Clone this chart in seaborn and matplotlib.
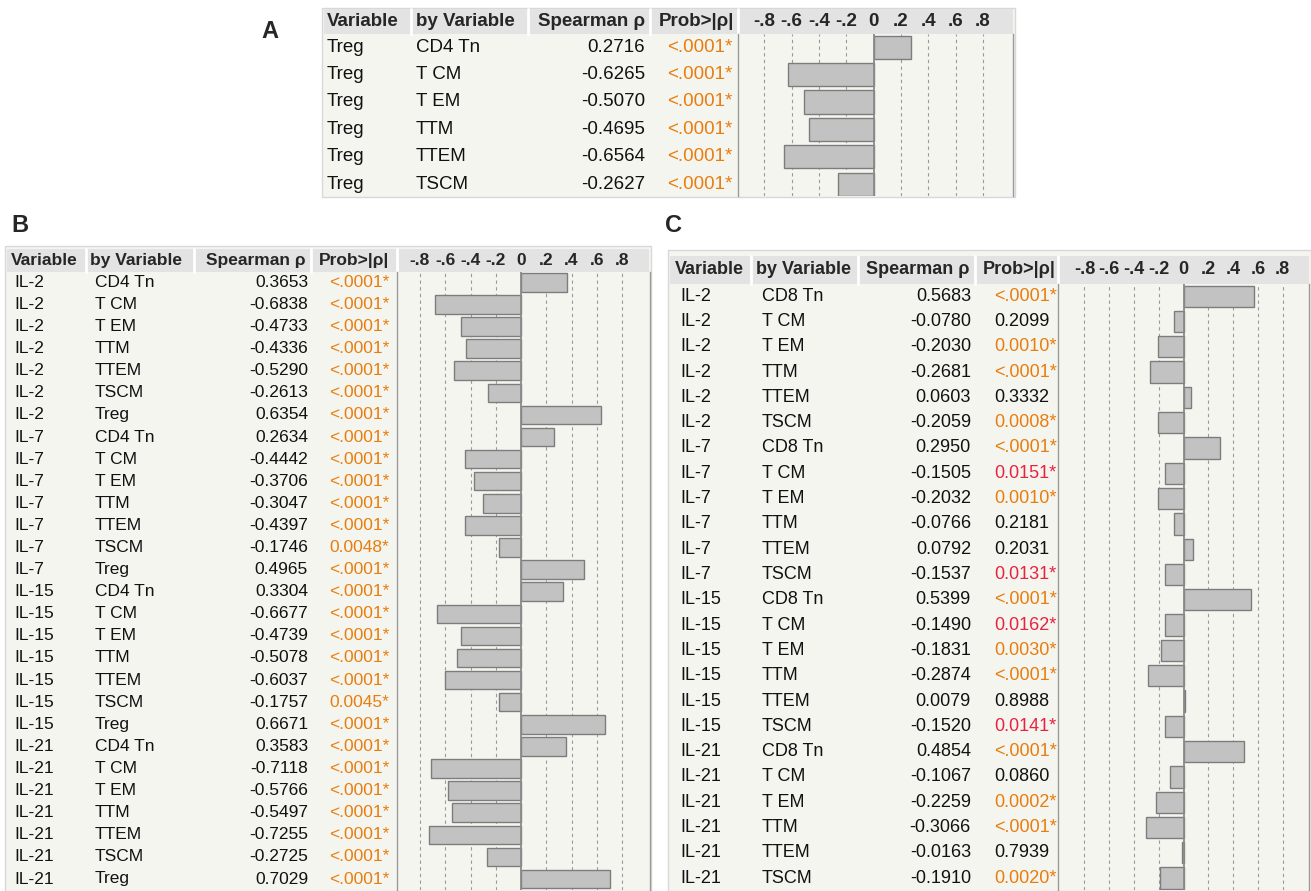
import matplotlib
matplotlib.use('Agg')
import matplotlib.pyplot as plt
from matplotlib.patches import Rectangle
import pandas as pd
import seaborn as sns

# ---- data ----
a_var = ['Treg'] * 6
a_by = ['CD4 Tn', 'T CM', 'T EM', 'TTM', 'TTEM', 'TSCM']
a_rho = [0.2716, -0.6265, -0.5070, -0.4695, -0.6564, -0.2627]
a_prob = ['<.0001*'] * 6

b_var = ['IL-2'] * 7 + ['IL-7'] * 7 + ['IL-15'] * 7 + ['IL-21'] * 7
b_by = ['CD4 Tn', 'T CM', 'T EM', 'TTM', 'TTEM', 'TSCM', 'Treg'] * 4
b_rho = [0.3653, -0.6838, -0.4733, -0.4336, -0.5290, -0.2613, 0.6354,
         0.2634, -0.4442, -0.3706, -0.3047, -0.4397, -0.1746, 0.4965,
         0.3304, -0.6677, -0.4739, -0.5078, -0.6037, -0.1757, 0.6671,
         0.3583, -0.7118, -0.5766, -0.5497, -0.7255, -0.2725, 0.7029]
b_prob = ['<.0001*'] * 12 + ['0.0048*', '<.0001*'] + ['<.0001*'] * 5 + ['0.0045*'] + ['<.0001*'] * 8

c_var = ['IL-2'] * 6 + ['IL-7'] * 6 + ['IL-15'] * 6 + ['IL-21'] * 6
c_by = ['CD8 Tn', 'T CM', 'T EM', 'TTM', 'TTEM', 'TSCM'] * 4
c_rho = [0.5683, -0.0780, -0.2030, -0.2681, 0.0603, -0.2059,
         0.2950, -0.1505, -0.2032, -0.0766, 0.0792, -0.1537,
         0.5399, -0.1490, -0.1831, -0.2874, 0.0079, -0.1520,
         0.4854, -0.1067, -0.2259, -0.3066, -0.0163, -0.1910]
c_prob = ['<.0001*', '0.2099', '0.0010*', '<.0001*', '0.3332', '0.0008*',
          '<.0001*', '0.0151*', '0.0010*', '0.2181', '0.2031', '0.0131*',
          '<.0001*', '0.0162*', '0.0030*', '<.0001*', '0.8988', '0.0141*',
          '<.0001*', '0.0860', '0.0002*', '<.0001*', '0.7939', '0.0020*']

tick_vals = [-0.8, -0.6, -0.4, -0.2, 0, 0.2, 0.4, 0.6, 0.8]
tick_labels = ['-.8', '-.6', '-.4', '-.2', '0', '.2', '.4', '.6', '.8']

# ---- layout (pixels) ----
W, H = 1311, 891
panels = [
    dict(name='A', lab=(261, 31), var=a_var, by=a_by, rho=a_rho, prob=a_prob,
         box=(322, 8, 1015, 197), head=(9, 34), row0=47.2, step=27.4, fs=13.5,
         hx=(327, 416, 645, 734), dx=(327, 416, 645, 733), prob_ha='right',
         seps=(411, 528, 650), bar=(738, 1013), zero=873.6, unit=136.6),
    dict(name='B', lab=(11, 226), var=b_var, by=b_by, rho=b_rho, prob=b_prob,
         box=(5, 246, 651, 891), head=(249, 272), row0=282.3, step=22.1, fs=12.5,
         hx=(10.5, 90.5, 306, 389), dx=(14.7, 94.7, 308, 389), prob_ha='right',
         seps=(86, 194, 311), bar=(396.5, 650), zero=521, unit=126.25),
    dict(name='C', lab=(665, 226), var=c_var, by=c_by, rho=c_rho, prob=c_prob,
         box=(668, 250, 1311, 891), head=(256, 284), row0=296.2, step=25.3, fs=13,
         hx=(674.5, 756, 970, 1056), dx=(680, 761.6, 971, 994), prob_ha='left',
         seps=(751, 858, 975), bar=(1058, 1309), zero=1183.6, unit=124),
]

sns.set_theme(style='white')
plt.rcParams['font.family'] = ['Liberation Sans', 'DejaVu Sans']

BODY = '#f5f5f0'
HEAD = '#e3e3e3'
ORANGE = '#e87d0e'
RED = '#e8233f'


def prob_color(p):
    if not p.endswith('*'):
        return '#111111'
    v = 0.0 if p.startswith('<') else float(p[:-1])
    return ORANGE if v < 0.01 else RED


fig = plt.figure(figsize=(W / 100, H / 100), dpi=100)
bg = fig.add_axes([0, 0, 1, 1])
bg.set_xlim(0, W)
bg.set_ylim(H, 0)
bg.axis('off')

for p in panels:
    x0, y0, x1, y1 = p['box']
    ht, hb = p['head']
    fs = p['fs']
    bg.add_patch(Rectangle((x0, y0), x1 - x0, y1 - y0, facecolor=BODY, edgecolor='#d8d8d8', lw=1))
    bg.add_patch(Rectangle((x0 + 2, ht), x1 - x0 - 4, hb - ht, facecolor=HEAD, edgecolor='none'))
    for s in list(p['seps']) + [p['bar'][0]]:
        bg.plot([s, s], [ht, hb], color='white', lw=2)
    hy = (ht + hb) / 2
    hx = p['hx']
    bg.text(p['lab'][0], p['lab'][1], p['name'], fontsize=17, fontweight='bold', ha='left', va='center')
    bg.text(hx[0], hy, 'Variable', fontsize=fs, fontweight='bold', va='center', ha='left')
    bg.text(hx[1], hy, 'by Variable', fontsize=fs, fontweight='bold', va='center', ha='left')
    bg.text(hx[2], hy, 'Spearman ρ', fontsize=fs, fontweight='bold', va='center', ha='right')
    bg.text(hx[3], hy, 'Prob>|ρ|', fontsize=fs, fontweight='bold', va='center', ha='right')
    for t, lab in zip(tick_vals, tick_labels):
        bg.text(p['zero'] + t * p['unit'], hy, lab, fontsize=fs, fontweight='bold', va='center', ha='center')

    dx = p['dx']
    for i, (v, b, r, pr) in enumerate(zip(p['var'], p['by'], p['rho'], p['prob'])):
        y = p['row0'] + i * p['step']
        bg.text(dx[0], y, v, fontsize=fs, va='center', ha='left', color='#111111')
        bg.text(dx[1], y, b, fontsize=fs, va='center', ha='left', color='#111111')
        bg.text(dx[2], y, f'{r:.4f}', fontsize=fs, va='center', ha='right', color='#111111')
        bg.text(dx[3], y, pr, fontsize=fs, va='center', ha=p['prob_ha'], color=prob_color(pr))

    # bar column
    bl, br = p['bar']
    ax = fig.add_axes([bl / W, 1 - (y1 - 1) / H, (br - bl) / W, (y1 - 1 - hb) / H])
    df = pd.DataFrame({'row': [f'{v}|{b}' for v, b in zip(p['var'], p['by'])], 'rho': p['rho']})
    sns.barplot(data=df, x='rho', y='row', orient='h', color='#c2c2c2', saturation=1,
                edgecolor='#7d7d7d', linewidth=1, width=0.84, ax=ax, zorder=3)
    ax.set_facecolor(BODY)
    ax.set_xlim((bl - p['zero']) / p['unit'], (br - p['zero']) / p['unit'])
    ax.set_ylim((y1 - 1 - p['row0']) / p['step'], (hb - p['row0']) / p['step'])
    for t in tick_vals:
        if t == 0:
            ax.axvline(0, color='#8a8a8a', lw=1.3, zorder=4)
        else:
            ax.axvline(t, color='#9a9a9a', lw=0.8, ls=(0, (3, 3)), zorder=1)
    ax.set_xticks([])
    ax.set_yticks([])
    ax.set_xlabel('')
    ax.set_ylabel('')
    for side in ['top', 'bottom']:
        ax.spines[side].set_visible(False)
    for side in ['left', 'right']:
        ax.spines[side].set_color('#9a9a9a')
        ax.spines[side].set_linewidth(1)

fig.savefig('out.png', dpi=100)
